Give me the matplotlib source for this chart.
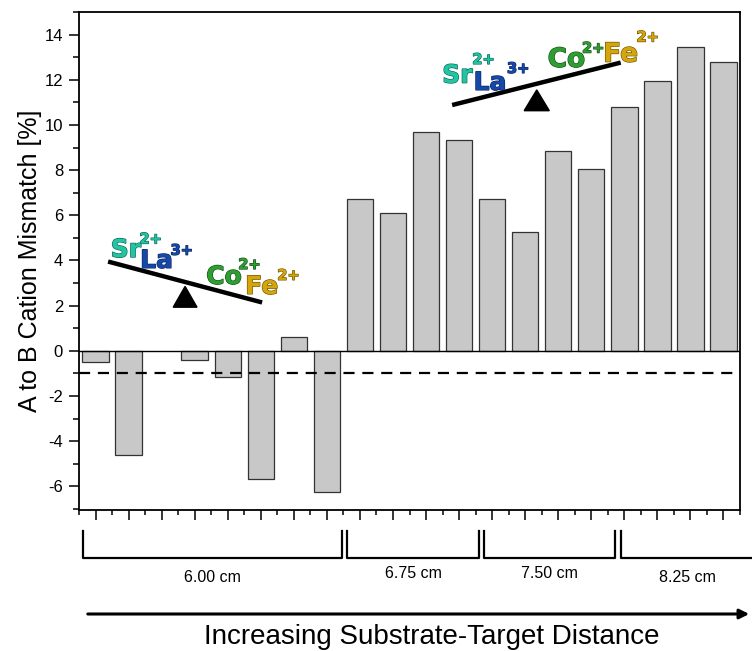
import numpy as np
import matplotlib
matplotlib.use('Agg')
import matplotlib.pyplot as plt
import matplotlib.patheffects as pe
from matplotlib.transforms import blended_transform_factory

# Data
slots = np.arange(20)
mismatch = [-0.5, -4.62, np.nan, -0.40, -1.15, -5.66, 0.62, -6.27,
            6.73, 6.08, 9.70, 9.35,
            6.74, 5.28, 8.86, 8.07,
            10.80, 11.93, 13.46, 12.80]
group_labels = ['6.00 cm', '6.75 cm', '7.50 cm', '8.25 cm']
group_first = [0, 8, 12, 16]
group_last = [7, 11, 15, 19]
reference_level = -1.0

# Colours of the ions (face, outline)
SR = ('#22c4a4', '#0b6655')
LA = ('#1548a8', '#0a2660')
CO = ('#2f9e32', '#145216')
FE = ('#d4a60c', '#6e5400')

plt.rcParams['font.family'] = ['Liberation Sans', 'DejaVu Sans']
plt.rcParams['axes.unicode_minus'] = False

fig = plt.figure(figsize=(7.52, 6.51), dpi=100)
ax = fig.add_axes([79 / 752, 1 - 510 / 651, 661 / 752, 498 / 651])

valid = ~np.isnan(mismatch)
ax.bar(slots[valid], np.array(mismatch)[valid], width=0.8,
       color='#c8c8c8', edgecolor='#333333', linewidth=0.9, zorder=2)

ax.axhline(0, color='black', linewidth=1.0, zorder=3)
ax.axhline(reference_level, color='black', linewidth=1.6,
           linestyle=(0, (5, 3.5)), zorder=4)

ax.set_xlim(-0.5, 19.5)
ax.set_ylim(-7.05, 15.0)
ax.set_xticks(slots)
ax.set_xticks(np.arange(-0.5, 20, 1.0), minor=True)
ax.set_xticklabels([])
ax.set_yticks(np.arange(-6, 15, 2))
ax.set_yticks(np.arange(-7, 16, 1), minor=True)
ax.tick_params(axis='x', which='major', direction='out', length=7, width=1.1)
ax.tick_params(axis='x', which='minor', direction='out', length=3.5, width=1.1)
ax.tick_params(axis='y', which='major', direction='out', length=7.5, width=1.1,
               labelsize=12, pad=4)
ax.tick_params(axis='y', which='minor', direction='out', length=4, width=1.1)
for s in ax.spines.values():
    s.set_linewidth(1.3)
ax.set_ylabel('A to B Cation Mismatch [%]', fontsize=18, labelpad=2)


def seesaw(x0, y0, x1, y1, apex, base_y, half_w):
    ax.plot([x0, x1], [y0, y1], color='black', linewidth=3.2,
            solid_capstyle='butt', zorder=6)
    ax.fill([apex[0] - half_w, apex[0] + half_w, apex[0]],
            [base_y, base_y, apex[1]], color='black', zorder=6)


def ion(x, y, s, col, size):
    ax.text(x, y, s, color=col[0], fontsize=size, fontweight='bold',
            family='DejaVu Sans', ha='left', va='baseline', zorder=7,
            path_effects=[pe.Stroke(linewidth=0.9, foreground=col[1]),
                          pe.Normal()])


# left seesaw (tilted towards Co/Fe)
seesaw(0.38, 3.95, 5.04, 2.14, (2.71, 2.85), 1.93, 0.36)
ion(0.46, 4.15, 'Sr', SR, 18)
ion(1.33, 4.75, '2+', SR, 10.5)
ion(1.35, 3.67, 'La', LA, 18)
ion(2.27, 4.25, '3+', LA, 10.5)
ion(3.35, 2.96, 'Co', CO, 18)
ion(4.32, 3.62, '2+', CO, 10.5)
ion(4.53, 2.52, 'Fe', FE, 18)
ion(5.50, 3.14, '2+', FE, 10.5)

# right seesaw (tilted towards Sr/La)
seesaw(10.79, 10.88, 15.89, 12.76, (13.35, 11.55), 10.63, 0.38)
ion(10.49, 11.87, 'Sr', SR, 18)
ion(11.40, 12.70, '2+', SR, 10.5)
ion(11.44, 11.55, 'La', LA, 18)
ion(12.45, 12.30, '3+', LA, 10.5)
ion(13.68, 12.57, 'Co', CO, 19)
ion(14.72, 13.20, '2+', CO, 10.5)
ion(15.36, 12.80, 'Fe', FE, 19)
ion(16.37, 13.69, '2+', FE, 10.5)

# distance brackets below the axis
trans = blended_transform_factory(ax.transData, fig.transFigure)
left_pad = [0.12, 0.12, 0.25, 0.40]
right_pad = [-0.04, 0.10, 0.22, 0.40]
label_y = [577, 573, 574, 577]
top_y, bot_y = 1 - 531 / 651, 1 - 558 / 651
for lab, a, b, lp, rp, ly in zip(group_labels, group_first, group_last,
                                 left_pad, right_pad, label_y):
    xl, xr = a - 0.5 + lp, b + 0.5 + rp
    ax.plot([xl, xl, xr, xr], [top_y, bot_y, bot_y, top_y], color='black',
            linewidth=1.6, transform=trans, clip_on=False)
    ax.text((xl + xr) / 2, 1 - ly / 651, lab, transform=trans, ha='center',
            va='center', fontsize=11.5)

fig.patches.append(matplotlib.patches.FancyArrowPatch(
    (85 / 752, 1 - 614 / 651), (752 / 752, 1 - 614 / 651),
    transform=fig.transFigure, arrowstyle='-|>', mutation_scale=14,
    linewidth=2.2, color='black'))
fig.text(432 / 752, 1 - 637 / 651, 'Increasing Substrate-Target Distance',
         ha='center', va='center', fontsize=20)

fig.savefig('out.png', dpi=100)
